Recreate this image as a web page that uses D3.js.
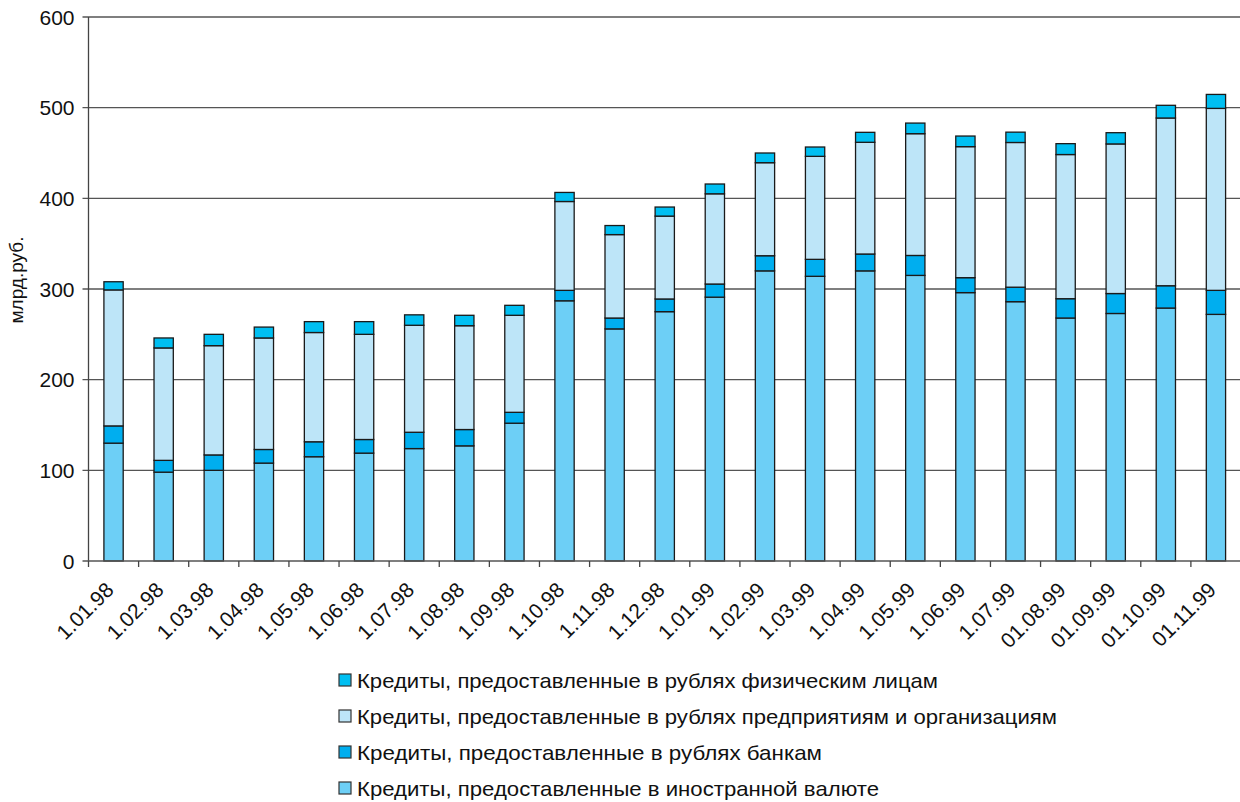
<!DOCTYPE html>
<html>
<head>
<meta charset="utf-8">
<script src="https://cdn.jsdelivr.net/npm/d3@7"></script>
<style>
  body { margin: 0; background: #fff; }
  svg { display: block; }
</style>
</head>
<body>
<svg id="chart" width="1240" height="802"></svg>
<script>
// dates (x categories)
const dates = ["1.01.98", "1.02.98", "1.03.98", "1.04.98", "1.05.98", "1.06.98", "1.07.98", "1.08.98",
  "1.09.98", "1.10.98", "1.11.98", "1.12.98", "1.01.99", "1.02.99", "1.03.99", "1.04.99", "1.05.99",
  "1.06.99", "1.07.99", "01.08.99", "01.09.99", "01.10.99", "01.11.99"];

// series, bottom to top, млрд.руб.
const foreignCurrency = [130, 98, 100, 108, 115, 119, 124, 127, 152, 287, 256, 275, 291, 320, 314, 320, 315, 296, 286, 268, 273, 279, 272];
const toBanks = [19, 13, 17, 15, 16.5, 15, 18, 18, 12, 11.5, 12, 14, 14.5, 16.7, 18.7, 18.6, 22, 16.5, 16, 21.3, 22, 24.6, 26.5];
const toEnterprises = [150, 124, 120.5, 123, 120.5, 116, 118, 114.5, 107, 98, 92, 91.4, 99.5, 102.6, 113.6, 123.2, 134.3, 144.5, 159.6, 159, 165, 185, 200.7];
const toIndividuals = [9, 11, 12.5, 12, 12, 14, 11.5, 11.5, 11, 10, 10, 10, 10.8, 10.7, 10.3, 11, 11.7, 11.7, 11.4, 12, 12.4, 14, 15.4];

const yTicks = [0, 100, 200, 300, 400, 500, 600];

const seriesNames = [
  "Кредиты, предоставленные в иностранной валюте",
  "Кредиты, предоставленные в рублях  банкам",
  "Кредиты, предоставленные в рублях предприятиям и организациям",
  "Кредиты, предоставленные в рублях физическим лицам"
];
const colors = ["#6dcff6", "#00aeef", "#bde5f8", "#00bff2"];

// build rows for d3.stack
const keys = ["foreign", "banks", "enterprises", "individuals"];
const rows = dates.map((d, i) => ({
  date: d,
  foreign: foreignCurrency[i],
  banks: toBanks[i],
  enterprises: toEnterprises[i],
  individuals: toIndividuals[i]
}));

const svg = d3.select("#chart");
const margin = {left: 88.5, right: 0, top: 17, bottom: 241};
const width = 1241 - margin.left;
const height = 802 - margin.top - margin.bottom;

const x = d3.scaleBand().domain(dates).range([0, width]).paddingInner(0.615).paddingOuter(0.3075);
const y = d3.scaleLinear().domain([0, 600]).range([height, 0]);

const g = svg.append("g").attr("transform", `translate(${margin.left},${margin.top})`);

// gridlines + y ticks
g.selectAll(".grid")
  .data(yTicks.filter(t => t > 0))
  .join("line")
  .attr("x1", -6).attr("x2", width)
  .attr("y1", d => y(d)).attr("y2", d => y(d))
  .attr("stroke", "#555").attr("stroke-width", 1.3);

g.selectAll(".ylab")
  .data(yTicks)
  .join("text")
  .attr("x", -14)
  .attr("y", d => y(d))
  .attr("dy", "0.36em")
  .attr("text-anchor", "end")
  .style("font-family", "Liberation Sans, Arial, sans-serif")
  .style("font-size", "21px")
  .style("fill", "#111")
  .text(d => d);

// bars
const stacked = d3.stack().keys(keys)(rows);
g.selectAll(".layer")
  .data(stacked)
  .join("g")
  .attr("fill", (d, i) => colors[i])
  .selectAll("rect")
  .data(d => d)
  .join("rect")
  .attr("x", d => x(d.data.date))
  .attr("y", d => y(d[1]))
  .attr("width", x.bandwidth())
  .attr("height", d => y(d[0]) - y(d[1]))
  .attr("stroke", "#1a1a1a")
  .attr("stroke-width", 1.3);

// axes lines
g.append("line")
  .attr("x1", 0).attr("x2", 0).attr("y1", 0).attr("y2", height)
  .attr("stroke", "#444").attr("stroke-width", 1.3);
g.append("line")
  .attr("x1", -6).attr("x2", width).attr("y1", height).attr("y2", height)
  .attr("stroke", "#555").attr("stroke-width", 1.3);

// x ticks at band boundaries
const step = x.step();
g.selectAll(".xtick")
  .data(d3.range(dates.length + 1))
  .join("line")
  .attr("x1", d => d * step).attr("x2", d => d * step)
  .attr("y1", height).attr("y2", height + 6)
  .attr("stroke", "#444").attr("stroke-width", 1.3);

g.selectAll(".xlab")
  .data(dates)
  .join("text")
  .attr("transform", d => `translate(${x(d) + x.bandwidth() / 2 - 4},${height + 25}) rotate(-45)`)
  .attr("text-anchor", "end")
  .attr("dy", "0.36em")
  .style("font-family", "Liberation Sans, Arial, sans-serif")
  .style("font-size", "21px")
  .style("fill", "#111")
  .text(d => d);

// y axis title
svg.append("text")
  .attr("transform", "translate(23,280) rotate(-90)")
  .attr("text-anchor", "middle")
  .style("font-family", "Liberation Sans, Arial, sans-serif")
  .style("font-size", "19px")
  .style("fill", "#111")
  .text("млрд.руб.");

// legend, top item is the top series
const legendOrder = [3, 2, 1, 0];
const legendWidths = [581, 700, 465, 522];
const legend = svg.append("g").attr("transform", "translate(339,680)");
legendOrder.forEach((si, row) => {
  const item = legend.append("g").attr("transform", `translate(0,${row * 36})`);
  item.append("rect")
    .attr("x", 0).attr("y", -6)
    .attr("width", 12).attr("height", 12)
    .attr("fill", colors[si])
    .attr("stroke", "#333").attr("stroke-width", 1.2);
  item.append("text")
    .attr("x", 18)
    .attr("y", 0)
    .attr("dy", "0.36em")
    .attr("textLength", legendWidths[row])
    .attr("lengthAdjust", "spacingAndGlyphs")
    .style("font-family", "Liberation Sans Narrow, Liberation Sans, Arial, sans-serif")
    .style("font-size", "21px")
    .style("fill", "#111")
    .text(seriesNames[si]);
});
</script>
</body>
</html>
